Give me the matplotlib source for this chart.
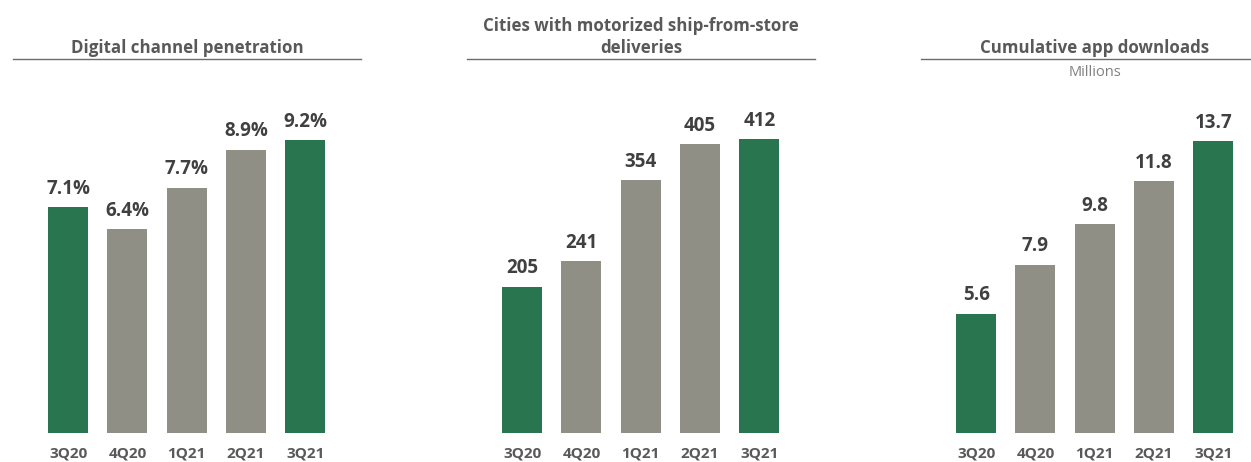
import matplotlib.pyplot as plt

plt.rcParams['font.family'] = ['Open Sans', 'DejaVu Sans']

quarters = ["3Q20", "4Q20", "1Q21", "2Q21", "3Q21"]
penetration = [7.1, 6.4, 7.7, 8.9, 9.2]
cities = [205, 241, 354, 405, 412]
downloads = [5.6, 7.9, 9.8, 11.8, 13.7]

GREEN = "#28754F"
GREY = "#8F8F86"
TITLE_C = "#595959"
LABEL_C = "#404040"
colors = [GREEN, GREY, GREY, GREY, GREEN]

W, H = 1251, 462
fig = plt.figure(figsize=(W / 100, H / 100), dpi=100)


def panel(left, values, labels, ymax, title, subtitle=None):
    # axes box runs from the bar baseline up to the title underline
    ax = fig.add_axes([left / W, (H - 433) / H, 348 / W, 374 / H])
    x = list(range(len(values)))
    ax.bar(x, values, width=0.675, color=colors)
    for xi, v, lab in zip(x, values, labels):
        ax.annotate(lab, (xi, v), xytext=(0, 6), textcoords="offset points",
                    ha="center", va="bottom", fontsize=13.5, fontweight="bold",
                    color=LABEL_C)
    ax.set_xlim(-0.93, 4.94)
    ax.set_ylim(0, ymax)
    ax.set_xticks(x)
    ax.set_xticklabels(quarters, fontsize=11, fontweight="bold", color=TITLE_C)
    ax.tick_params(axis="x", length=0, pad=10)
    ax.set_yticks([])
    for s in ["left", "right", "bottom"]:
        ax.spines[s].set_visible(False)
    ax.spines["top"].set_color("#6b6b6b")
    ax.spines["top"].set_linewidth(1.0)
    ax.set_title(title, fontsize=12.2, fontweight="bold", color=TITLE_C,
                 pad=4, linespacing=1.35)
    if subtitle:
        ax.text(0.5, 0.985, subtitle, transform=ax.transAxes, ha="center",
                va="top", fontsize=10.5, color="#7f7f7f")
    return ax


panel(13, penetration, [f"{v:.1f}%" for v in penetration],
      9.2 * 374 / 293, "Digital channel penetration")
panel(467, cities, [str(v) for v in cities],
      412 * 374 / 294, "Cities with motorized ship-from-store\ndeliveries")
panel(921, downloads, [f"{v:.1f}" for v in downloads],
      13.7 * 374 / 292, "Cumulative app downloads", "Millions")

fig.savefig("out.png", dpi=100)
